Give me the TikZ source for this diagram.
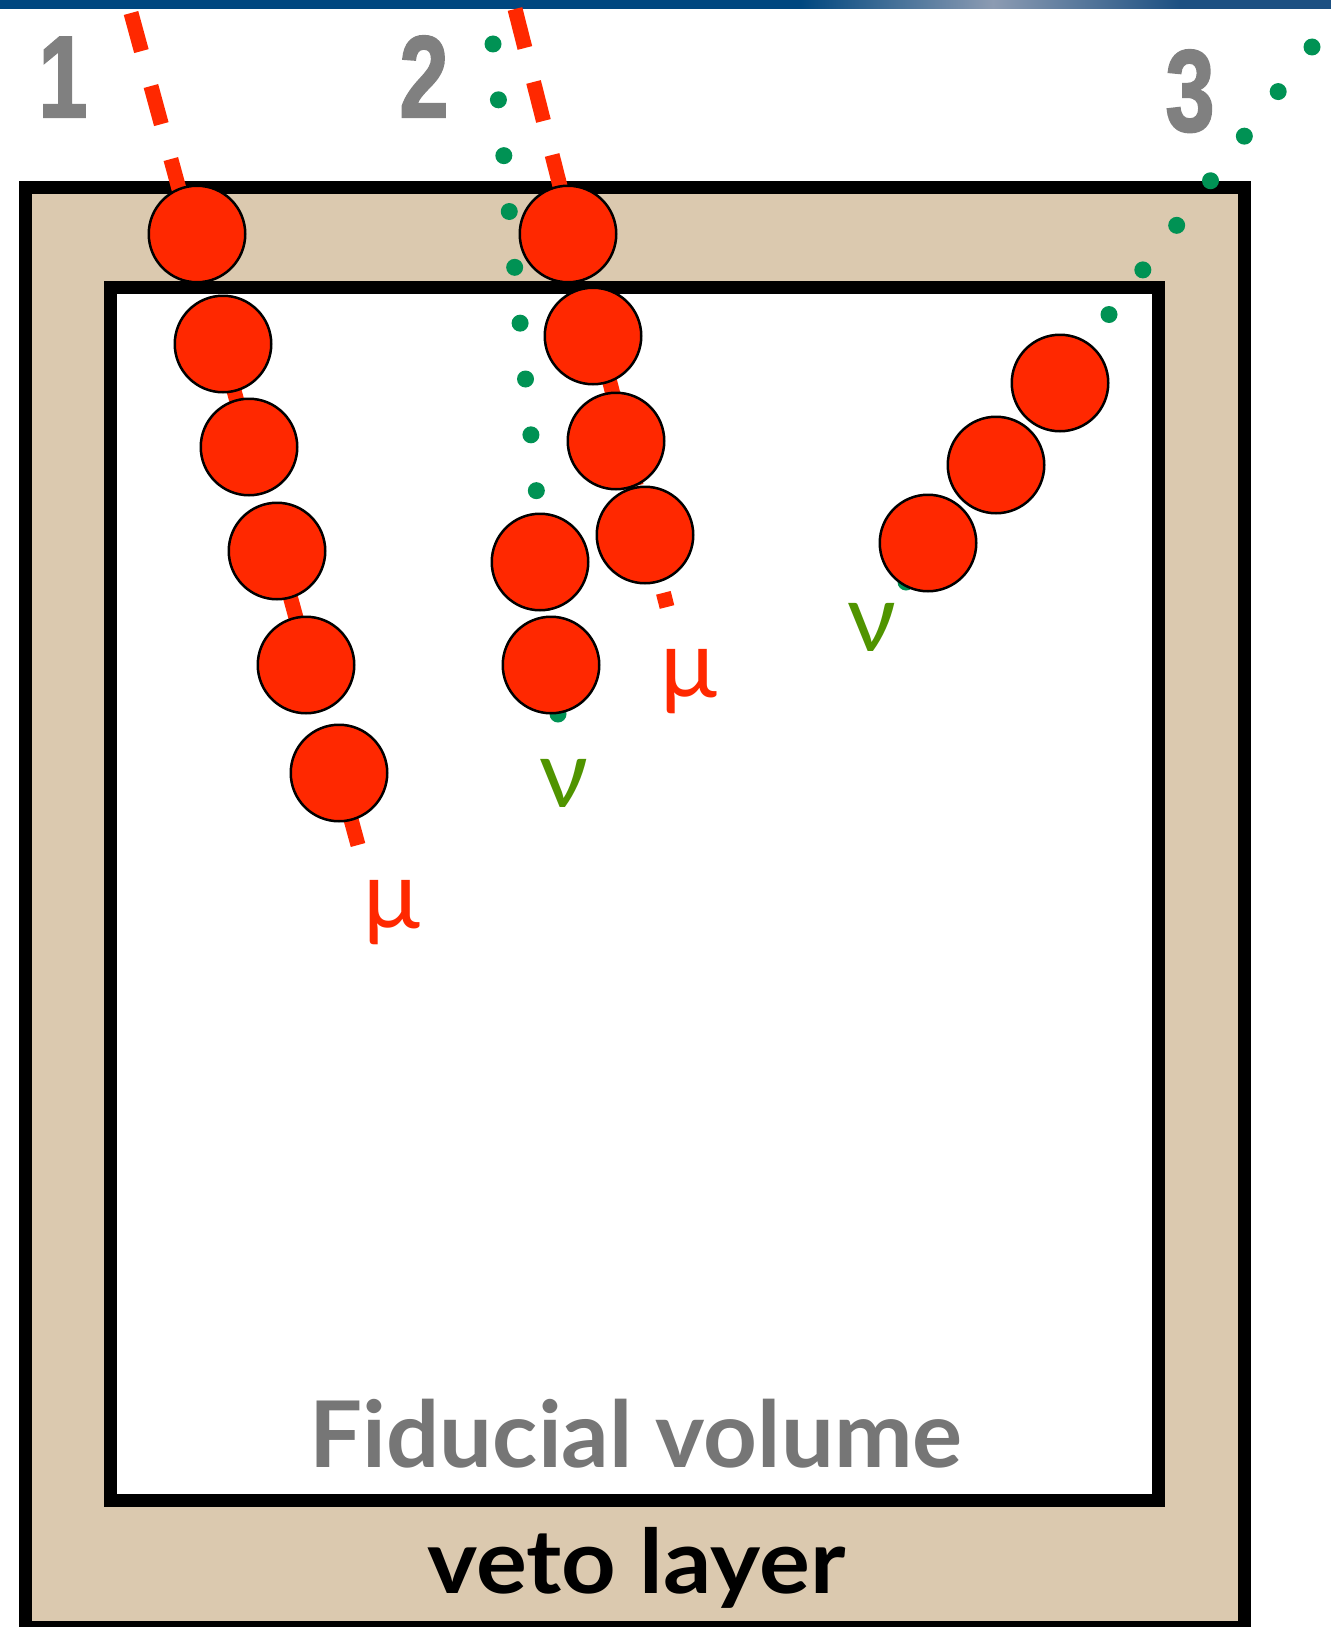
\documentclass[tikz,border=0pt]{standalone}
\usepackage{graphicx}
\usepackage{fontspec}
\setmainfont{Lato}
\newfontfamily\digitfont{Liberation Sans}[BoldFeatures={FakeBold=2}]
\usetikzlibrary{calc}
\definecolor{barblue}{RGB}{0,71,127}
\definecolor{barlight}{RGB}{140,155,178}
\definecolor{barblueb}{RGB}{28,80,130}
\definecolor{tanfill}{RGB}{219,201,175}
\definecolor{hitred}{RGB}{255,40,0}
\definecolor{nugreen}{RGB}{0,146,84}
\definecolor{nulabel}{RGB}{80,148,0}
\definecolor{numgray}{RGB}{128,128,128}
\definecolor{fidgray}{RGB}{118,118,118}
\tikzset{
  wall/.style={line width=13pt, draw=black},
  hit/.style={circle, draw=black, line width=2.5pt, fill=hitred, minimum size=96.5pt, inner sep=0pt},
  mutrack/.style={draw=hitred, line width=15pt, line cap=butt},
  nudot/.style={fill=nugreen},
  numlabel/.style={anchor=base, inner sep=0pt, text=numgray, font=\digitfont\bfseries\fontsize{116}{116}\selectfont},
  mulabel/.style={anchor=base, inner sep=0pt, text=hitred, font=\fontsize{95}{95}\selectfont},
  nulab/.style={anchor=base, inner sep=0pt, text=nulabel, font=\fontsize{95}{95}\selectfont},
}
\begin{document}
\begin{tikzpicture}[x=1pt,y=-1pt]
\useasboundingbox (0,0) rectangle (1331,1627);
% top bar
\fill[barblue] (0,0) rectangle (1331,9);
\shade[left color=barblue, right color=barlight] (800,0) rectangle (993,9);
\shade[left color=barlight, right color=barblueb] (993,0) rectangle (1180,9);
\fill[barblueb] (1180,0) rectangle (1331,9);
% veto layer and fiducial volume
\draw[wall, fill=tanfill] (25,187) rectangle (1244,1627);
\draw[wall, fill=white] (110.5,287.5) rectangle (1158.5,1500.5);
% muon tracks
\coordinate (m1s) at (131,13);
\coordinate (m1e) at (358,845);
\draw[mutrack, dash pattern=on 39.5pt off 36.2pt] (m1s) -- (m1e);
\coordinate (m2s) at (515,9);
\coordinate (m2e) at (667,607);
\draw[mutrack, dash pattern=on 40.2pt off 35.1pt] (m2s) -- (m2e);
% neutrino tracks
\coordinate (n2s) at (493,44);
\coordinate (n2e) at (558,714);
\foreach \i in {0,...,12} \fill[nudot] ($(n2s)!\i/12!(n2e)$) circle (8.5pt);
\coordinate (n3s) at (1312,47);
\coordinate (n3e) at (906,582);
\foreach \i in {0,...,12} \fill[nudot] ($(n3s)!\i/12!(n3e)$) circle (8.5pt);
% hits track 1
\node[hit] (c1) at (197,234) {};
\node[hit] (c2) at (223,344) {};
\node[hit] (c3) at (249,447) {};
\node[hit] (c4) at (277,551) {};
\node[hit] (c5) at (306,665) {};
\node[hit] (c6) at (339,773) {};
% hits track 2
\node[hit] (d1) at (568,234) {};
\node[hit] (d2) at (593,336) {};
\node[hit] (d3) at (616,441) {};
\node[hit] (d4) at (645,535) {};
\node[hit] (e1) at (540,562) {};
\node[hit] (e2) at (551,665) {};
% hits track 3
\node[hit] (f1) at (1060,383) {};
\node[hit] (f2) at (996,465) {};
\node[hit] (f3) at (928,543) {};
% labels
\node[numlabel] (n1) at (63,117) {\scalebox{0.76}[1]{1}};
\node[numlabel] (n2) at (424,117) {\scalebox{0.76}[1]{2}};
\node[numlabel] (n3) at (1190,131) {\scalebox{0.76}[1]{3}};
\node[mulabel] (mu1) at (391.5,928) {μ};
\node[mulabel] (mu2) at (688.5,697) {μ};
\node[nulab] (nu2) at (563.5,807) {ν};
\node[nulab] (nu3) at (871.5,651) {ν};
\node[anchor=base, inner sep=0pt, text=fidgray, font=\bfseries\fontsize{92}{92}\selectfont] (fid) at (636,1467) {\scalebox{1.02}[1]{Fiducial volume}};
\node[anchor=base, inner sep=0pt, text=black, font=\bfseries\fontsize{89}{89}\selectfont] (veto) at (636.5,1593) {\scalebox{1.07}[1]{veto layer}};
\end{tikzpicture}
\end{document}
